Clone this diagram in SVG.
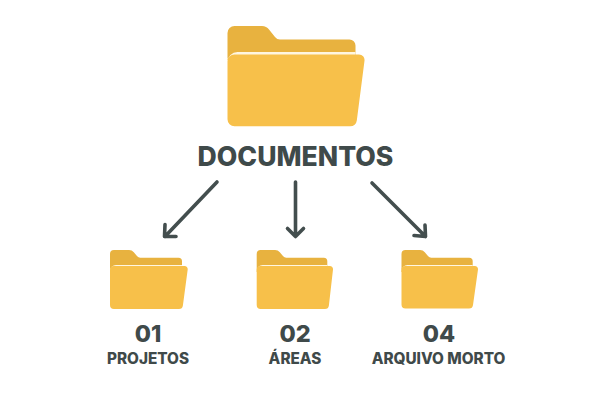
<svg xmlns="http://www.w3.org/2000/svg" width="600" height="400" viewBox="0 0 600 400">
<style>
.back{fill:#e8b23f}
.hi{fill:#fff6e0}
.front{fill:#f7c04a}
.edge{fill:none;stroke:#434e4e;stroke-width:3.6;stroke-linecap:round;stroke-linejoin:round}
text{font-family:Inter,"Liberation Sans",sans-serif;font-weight:800;fill:#3f4a4a;text-anchor:middle}
.title{font-size:26.600px}
.num{font-size:23.500px}
.lab{font-size:15.300px}
</style>
<rect width="600" height="400" fill="#fff"/>
<g id="connectors">
<path class="edge" d="M217 182L165 236.500M165 224.500L164.500 236.500L176 236.500"/>
<path class="edge" d="M295.500 182V236.500M287.500 228.500L295.500 236.500L303.500 228.500"/>
<path class="edge" d="M372 183L425.500 236.500M425 225L425.500 236.500L414 235.500"/>
</g>
<g id="node-documentos">
<path class="back" d="M227.500 33a7 7 0 0 1 7-7H262q4.500 0 7 3.500l6 7.500q2 2.500 5 2.500H349.500a6 6 0 0 1 6 6V60H227.500z"/>
<path class="hi" d="M227.500 62a10 10 0 0 1 10-10H355.500V58H227.500z"/>
<path class="front" d="M234.500 54.500H359a5.500 5.500 0 0 1 5.500 6.200L356.800 120.500a6.500 6.500 0 0 1-6.500 5.800H234.500a7 7 0 0 1-7-7V61.500a7 7 0 0 1 7-7z"/>
<text class="title" x="295.500" y="166">DOCUMENTOS</text>
</g>
<g id="node-projetos">
<path class="back" d="M110 254a4 4 0 0 1 4-4H129q3 0 4.800 2.300l3.400 4q1.200 1.400 3 1.400H178.500a3.500 3.500 0 0 1 3.500 3.500V272H110z"/>
<path class="hi" d="M110 271a6 6 0 0 1 6-6H182V270H110z"/>
<path class="front" d="M114 266H184.500a3.200 3.200 0 0 1 3.200 3.600L182.900 305.500a4 4 0 0 1-4 3.500H114a4 4 0 0 1-4-4V270a4 4 0 0 1 4-4z"/>
<text class="num" x="148" y="342">01</text>
<text class="lab" x="148" y="364">PROJETOS</text>
</g>
<g id="node-areas">
<path class="back" d="M256.700 254a4 4 0 0 1 4-4H275q3 0 4.800 2.300l3.400 4q1.200 1.400 3 1.400H323.800a3.500 3.500 0 0 1 3.500 3.500V272H256.700z"/>
<path class="hi" d="M256.700 271a6 6 0 0 1 6-6H327.300V270H256.700z"/>
<path class="front" d="M260.700 266H329.800a3.200 3.200 0 0 1 3.200 3.600L328.900 305.500a4 4 0 0 1-4 3.500H260.700a4 4 0 0 1-4-4V270a4 4 0 0 1 4-4z"/>
<text class="num" x="295" y="342">02</text>
<text class="lab" x="295" y="364">ÁREAS</text>
</g>
<g id="node-arquivo">
<path class="back" d="M401.500 254a4 4 0 0 1 4-4H420q3 0 4.800 2.300l3.400 4q1.200 1.400 3 1.400H469.200a3.500 3.500 0 0 1 3.500 3.500V272H401.500z"/>
<path class="hi" d="M401.500 271a6 6 0 0 1 6-6H472.700V270H401.500z"/>
<path class="front" d="M405.500 266H474.800a3.200 3.200 0 0 1 3.200 3.600L473 305a4 4 0 0 1-4 3.500H405.500a4 4 0 0 1-4-4V270a4 4 0 0 1 4-4z"/>
<text class="num" x="439" y="342">04</text>
<text class="lab" x="438.500" y="364">ARQUIVO MORTO</text>
</g>
</svg>
